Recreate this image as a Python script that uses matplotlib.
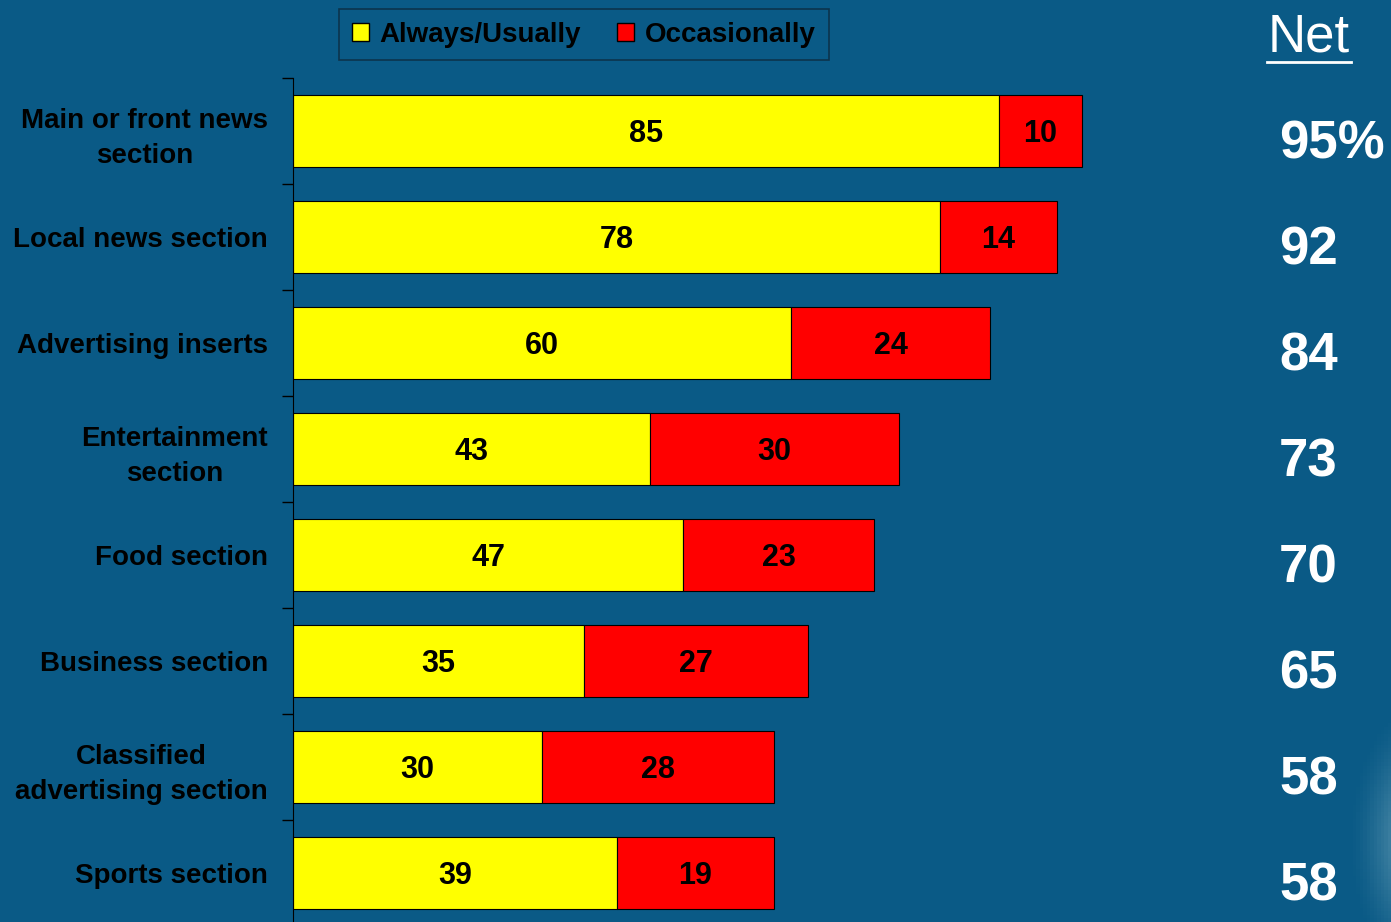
import numpy as np
import matplotlib.pyplot as plt
import matplotlib.transforms as mtransforms
from matplotlib.patches import Patch

plt.rcParams['font.family'] = ['Liberation Sans', 'DejaVu Sans']

# Sections read (percent of readers)
sections = ['Main or front news\nsection', 'Local news section', 'Advertising inserts',
            'Entertainment\nsection', 'Food section', 'Business section',
            'Classified\nadvertising section', 'Sports section']
always = [85, 78, 60, 43, 47, 35, 30, 39]
occasionally = [10, 14, 24, 30, 23, 27, 28, 19]
net = ['95%', '92', '84', '73', '70', '65', '58', '58']

bg = '#0a5a86'
fig = plt.figure(figsize=(13.91, 9.22), dpi=100, facecolor=bg)

# soft light patch in the lower right corner
glow = fig.add_axes([0, 0, 1, 1], zorder=-1)
gx, gy = np.meshgrid(np.linspace(0, 1391, 400), np.linspace(0, 922, 260))
d = np.hypot((gx - 1420) / 70, (gy - 80) / 140)
alpha = np.clip(1 - d, 0, 1) ** 1.5 * 0.6
img = np.zeros(gx.shape + (4,))
img[..., :3] = [0.75, 0.88, 0.9]
img[..., 3] = alpha
glow.imshow(img, extent=[0, 1391, 0, 922], origin='lower', aspect='auto')
glow.set_xlim(0, 1391)
glow.set_ylim(0, 922)
glow.axis('off')

ax = fig.add_axes([293 / 1391, -4 / 922, 830 / 1391, 848 / 922])
ax.set_facecolor('none')
y = np.arange(len(sections))
ax.barh(y, always, height=0.68, color='#ffff00', edgecolor='black', linewidth=0.8)
ax.barh(y, occasionally, left=always, height=0.68, color='#ff0000',
        edgecolor='black', linewidth=0.8)

for i in range(len(sections)):
    ax.text(always[i] / 2, i + 0.03, str(always[i]), ha='center', va='center',
            fontsize=22, fontweight='bold', color='black')
    ax.text(always[i] + occasionally[i] / 2, i + 0.03, str(occasionally[i]), ha='center',
            va='center', fontsize=22, fontweight='bold', color='black')

ax.set_xlim(0, 100)
ax.set_ylim(7.5, -0.5)
ax.set_xticks([])
ax.set_yticks(y)
ax.set_yticklabels(sections, fontsize=20, fontweight='bold', ha='right',
                   multialignment='center', linespacing=1.45)
ax.tick_params(axis='y', which='major', length=0, pad=18)
ax.set_yticks(np.arange(-0.5, 7.5, 1), minor=True)
ax.tick_params(axis='y', which='minor', length=8, width=1, color='black')
for side in ['top', 'right', 'bottom']:
    ax.spines[side].set_visible(False)
ax.spines['left'].set_color('black')

# Net column
tr = mtransforms.blended_transform_factory(fig.transFigure, ax.transData)
for i, v in enumerate(net):
    ax.text(1279 / 1391, i + 0.13, v, transform=tr, ha='left', va='center',
            fontsize=38, fontweight='bold', color='white')
fig.text(1309 / 1391, 1 - 38 / 922, 'Net', ha='center', va='center',
         fontsize=38, color='white')
fig.add_artist(plt.Line2D([1267 / 1391, 1351 / 1391], [1 - 62 / 922, 1 - 62 / 922],
                          color='white', linewidth=2))

handles = [Patch(facecolor='#ffff00', edgecolor='black', label='Always/Usually'),
           Patch(facecolor='#ff0000', edgecolor='black', label='Occasionally')]
leg = fig.legend(handles=handles, loc='center', bbox_to_anchor=(584 / 1391, 1 - 35 / 922),
                 ncol=2, frameon=True, fancybox=False, facecolor=bg, edgecolor='#0c2a3e',
                 prop={'size': 20, 'weight': 'bold'}, handlelength=0.6, handleheight=0.6,
                 handletextpad=0.4, columnspacing=1.3, borderpad=0.45)
leg.get_frame().set_linewidth(1.2)

fig.savefig('out.png', dpi=100, facecolor=bg)
